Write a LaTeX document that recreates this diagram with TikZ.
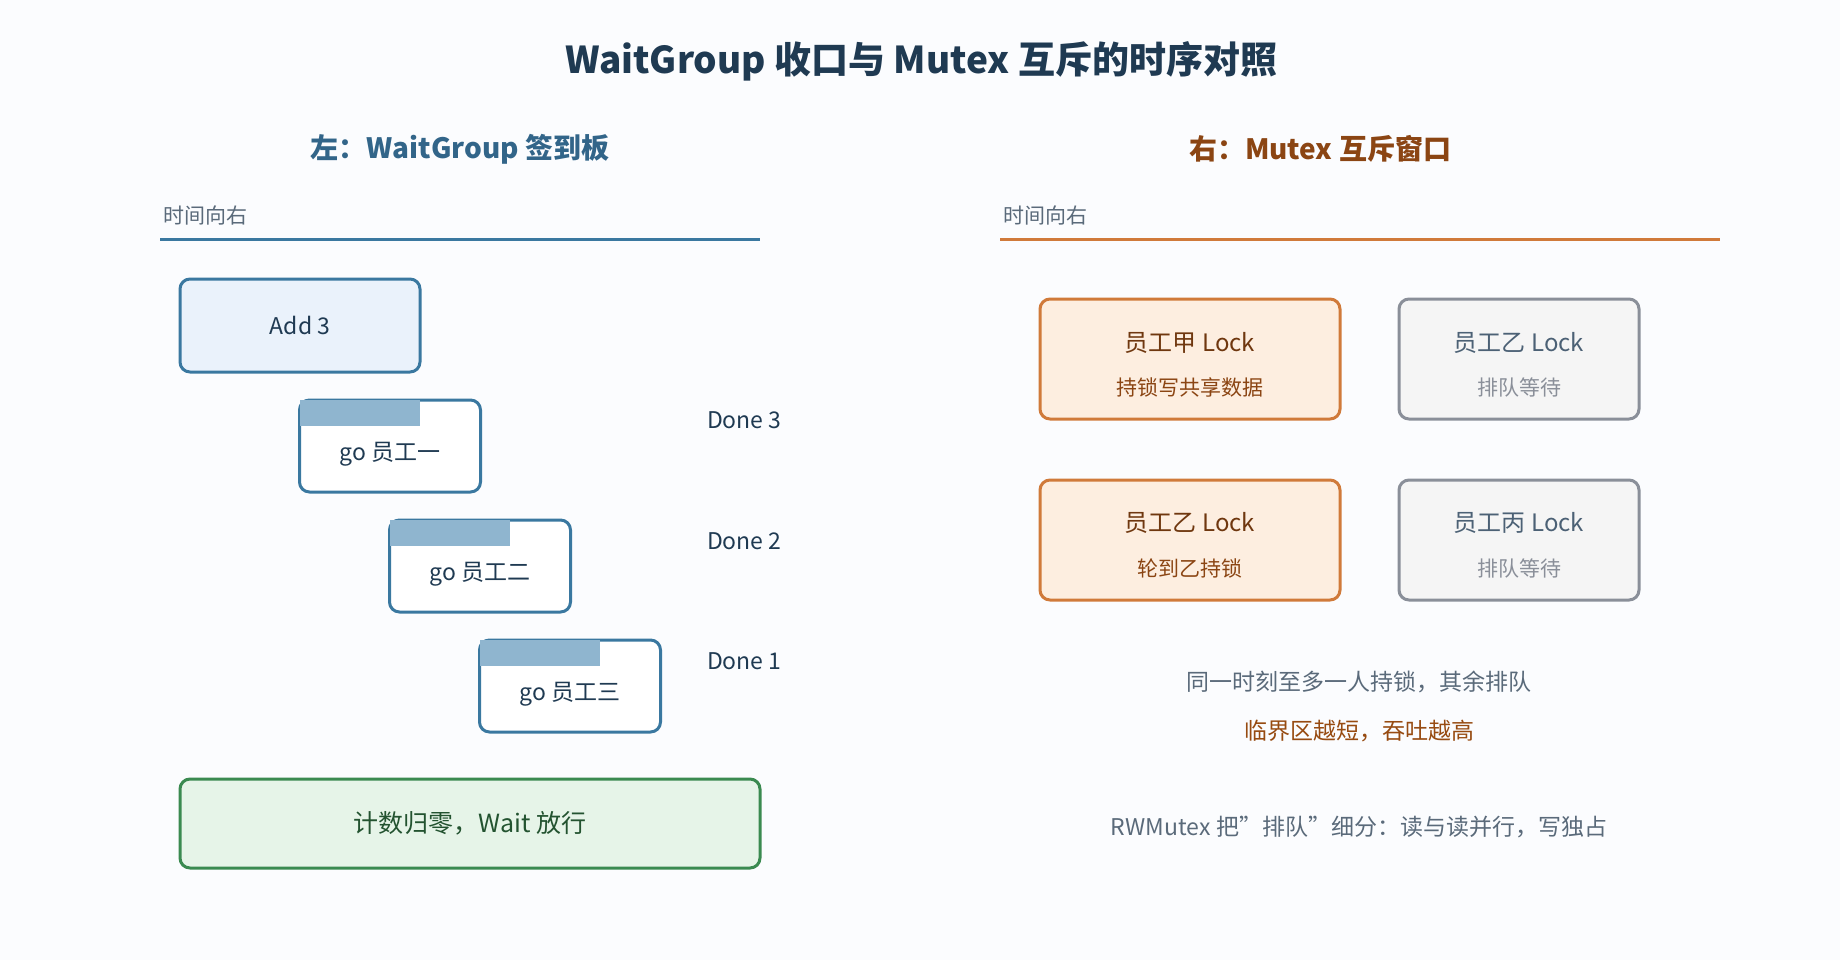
\documentclass[tikz,border=0pt]{standalone}
\usepackage{fontspec}
\setmainfont{Noto Sans CJK SC}
\definecolor{bgc}{HTML}{FBFCFE}
\definecolor{navy}{HTML}{1F3A52}
\definecolor{wgblue}{HTML}{3A78A0}
\definecolor{wgbar}{HTML}{8FB5CF}
\definecolor{wgfill}{HTML}{EAF2FB}
\definecolor{mxorange}{HTML}{D07A3A}
\definecolor{mxfill}{HTML}{FDEEE0}
\definecolor{mxbrown}{HTML}{8B4513}
\definecolor{qgray}{HTML}{8A8F99}
\definecolor{qfill}{HTML}{F5F5F5}
\definecolor{txtgray}{HTML}{5A6A7A}
\definecolor{okgreen}{HTML}{3A8A50}
\definecolor{okfill}{HTML}{E6F4E8}
\begin{document}
\begin{tikzpicture}[x=0.5pt, y=-0.5pt,
    box/.style={draw, line width=1.5pt, rounded corners=5pt, inner sep=0pt},
    wg/.style={box, draw=wgblue, fill=white, text=navy, font=\fontsize{11.5}{14}\selectfont},
    mx/.style={box, draw=mxorange, fill=mxfill, minimum width=150pt, minimum height=60pt},
    wait/.style={box, draw=qgray, fill=qfill, minimum width=120pt, minimum height=60pt},
    done/.style={anchor=west, text=navy, font=\fontsize{11.5}{14}\selectfont},
    axis/.style={anchor=west, text=txtgray, font=\fontsize{10.5}{13}\selectfont}]
    \fill[bgc] (0, 0) rectangle (1840, 960);

    \node[text=navy, font=\fontsize{18.5}{22}\bfseries\selectfont] (title) at (921, 61) {WaitGroup 收口与 Mutex 互斥的时序对照};
    \node[text=wgblue!70!navy, font=\fontsize{14}{17}\bfseries\selectfont] (lhead) at (460, 149) {左：WaitGroup 签到板};
    \node[text=mxbrown, font=\fontsize{14}{17}\bfseries\selectfont] (rhead) at (1320, 149) {右：Mutex 互斥窗口};

    % left: WaitGroup
    \node[axis] (laxis) at (156, 216) {时间向右};
    \draw[wgblue, line width=1.5pt] (160, 239) -- (760, 239);

    \node[wg, fill=wgfill, minimum width=120pt, minimum height=46.5pt] (add) at (300, 325.5) {Add 3};
    \foreach \n/\x/\y/\who in {1/390/446/一, 2/480/566/二, 3/570/686/三} {
      \node[wg, minimum width=90.5pt, minimum height=46pt] (go\n) at (\x, \y) {};
      \fill[wgbar] ([xshift=0.75pt, yshift=-0.75pt]go\n.north west) rectangle ++(60pt, -13pt);
      \node[text=navy, font=\fontsize{11.5}{14}\selectfont] at ([yshift=-4pt]go\n.center) {go 员工\who};
    }
    \node[done] (d3) at (700, 420) {Done 3};
    \node[done] (d2) at (700, 541) {Done 2};
    \node[done] (d1) at (700, 661) {Done 1};

    \node[box, draw=okgreen, fill=okfill, text=okgreen!60!black, minimum width=290pt, minimum height=44.5pt,
      font=\fontsize{12.5}{15}\selectfont] (zero) at (470, 823.5) {计数归零，Wait 放行};

    % right: Mutex
    \node[axis] (raxis) at (996, 216) {时间向右};
    \draw[mxorange, line width=1.5pt] (1000, 239) -- (1720, 239);

    \node[mx] (jia) at (1190, 359) {};
    \node[text=mxbrown!80!black, font=\fontsize{12}{14}\selectfont] at (1190, 343) {员工甲 Lock};
    \node[text=mxbrown, font=\fontsize{10.5}{13}\selectfont] at (1190, 387) {持锁写共享数据};
    \node[wait] (yi1) at (1519, 359) {};
    \node[text=navy!80, font=\fontsize{12}{14}\selectfont] at (1519, 343) {员工乙 Lock};
    \node[text=qgray, font=\fontsize{10.5}{13}\selectfont] at (1519, 387) {排队等待};

    \node[mx] (yi2) at (1190, 540) {};
    \node[text=mxbrown!80!black, font=\fontsize{12}{14}\selectfont] at (1190, 523) {员工乙 Lock};
    \node[text=mxbrown, font=\fontsize{10.5}{13}\selectfont] at (1190, 568) {轮到乙持锁};
    \node[wait] (bing) at (1519, 540) {};
    \node[text=navy!80, font=\fontsize{12}{14}\selectfont] at (1519, 523) {员工丙 Lock};
    \node[text=qgray, font=\fontsize{10.5}{13}\selectfont] at (1519, 568) {排队等待};

    \node[text=txtgray, font=\fontsize{11.5}{14}\selectfont] (rule) at (1359, 682) {同一时刻至多一人持锁，其余排队};
    \node[text=mxbrown!90!orange, font=\fontsize{11.5}{14}\selectfont] (tip) at (1359, 731) {临界区越短，吞吐越高};
    \node[text=txtgray, font=\fontsize{11.5}{14}\selectfont] (rw) at (1359, 827) {RWMutex 把"排队"细分：读与读并行，写独占};
\end{tikzpicture}
\end{document}
